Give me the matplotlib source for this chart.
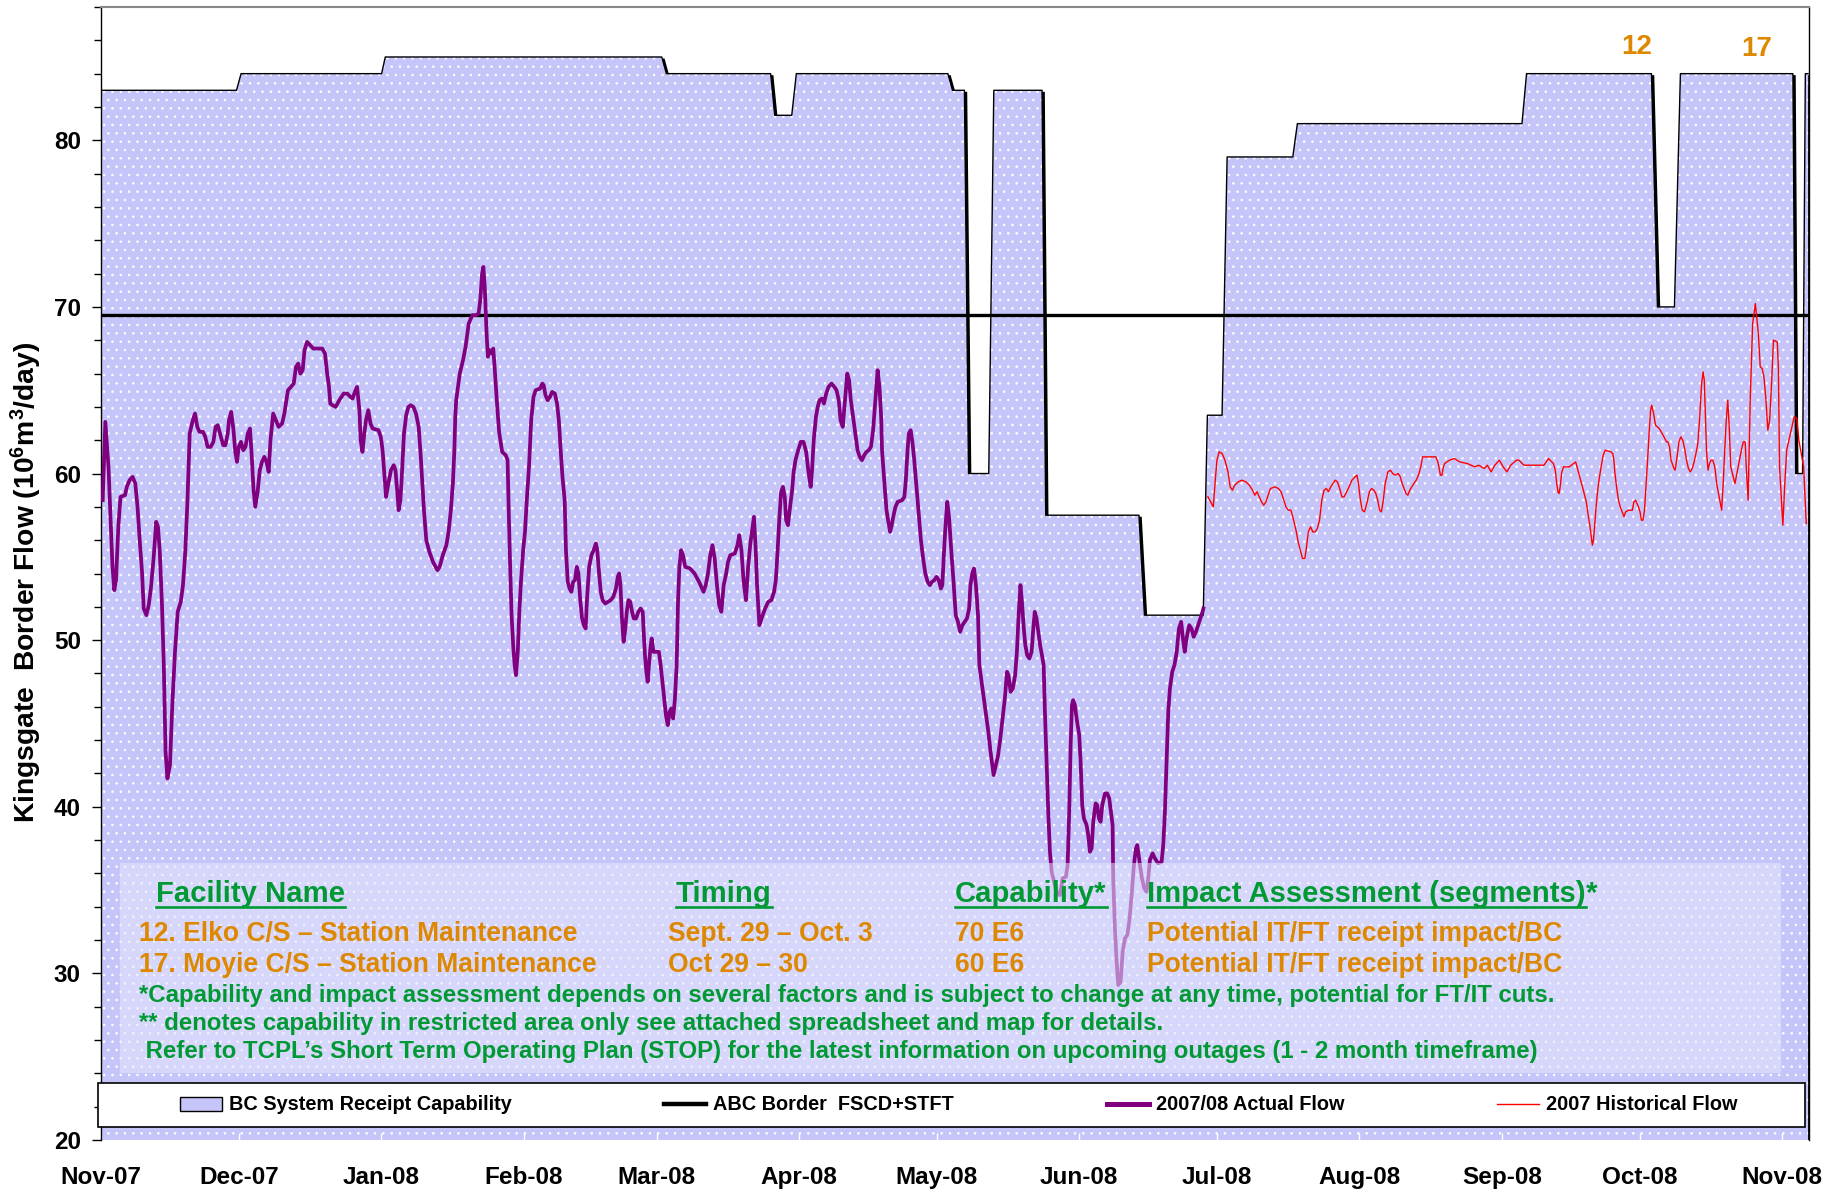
import matplotlib
matplotlib.use("Agg")
import matplotlib.pyplot as plt
from matplotlib import font_manager as fm
from matplotlib.patches import Rectangle, Patch
from matplotlib.lines import Line2D
from matplotlib.ticker import MultipleLocator, FixedLocator
from matplotlib.transforms import offset_copy

# ---------------- data ----------------
MONTH_DAY = [0, 30, 61, 92, 121, 152, 182, 213, 243, 274, 305, 335, 366]
MONTH_LABELS = ["Nov-07", "Dec-07", "Jan-08", "Feb-08", "Mar-08", "Apr-08", "May-08",
                "Jun-08", "Jul-08", "Aug-08", "Sep-08", "Oct-08", "Nov-08"]

# BC System Receipt Capability (days from Nov 1 2007)
CAP_DAY = [0, 29.5, 30.5, 61.1, 61.9, 122.1, 123.1, 145.8, 146.7, 150.4, 151.4, 184.4, 185.4,
           188.0, 188.9, 193.3, 194.4, 204.9, 205.7, 226.0, 227.2, 240.0, 240.9, 244.1, 245.2,
           259.5, 260.5, 309.4, 310.4, 337.6, 338.9, 342.6, 343.9, 368.4, 369.0, 370.5, 371.1, 371.7]
CAP_VALUE = [83, 83, 84, 84, 85, 85, 84, 84, 81.5, 81.5, 84, 84, 83,
             83, 60, 60, 83, 83, 57.5, 57.5, 51.5, 51.5, 63.5, 63.5, 79,
             79, 81, 81, 84, 84, 70, 70, 84, 84, 60, 60, 84, 84]

# ABC Border FSCD+STFT
ABC_DAY = [0, 371.7]
ABC_FLOW = [69.5, 69.5]

# 2007/08 Actual Flow
ACT_DAY = [0.37, 0.94, 1.63, 2.11, 2.50, 2.90, 3.27, 3.77, 4.25, 5.23, 5.62, 6.21, 6.88, 7.47, 7.95,
           8.43, 8.93, 9.30, 9.88, 10.39, 10.86, 11.45, 12.02, 12.41, 12.80, 13.28, 13.67, 14.06,
           14.46, 15.02, 15.52, 16.11, 16.70, 17.37, 17.85, 18.35, 18.83, 19.31, 19.99, 20.47,
           20.97, 21.45, 22.21, 22.71, 23.21, 23.88, 24.47, 24.95, 25.43, 25.91, 26.61, 27.09,
           27.59, 27.87, 28.35, 28.85, 29.24, 29.61, 30.00, 30.48, 30.98, 31.46, 31.96, 32.44,
           32.83, 33.22, 33.59, 34.10, 34.57, 35.05, 35.55, 36.03, 36.51, 36.90, 37.49, 38.08,
           38.67, 39.43, 39.93, 40.71, 41.37, 41.96, 42.46, 42.94, 43.41, 43.91, 44.31, 44.87,
           45.57, 46.24, 48.18, 48.77, 49.25, 49.64, 49.92, 50.42, 51.10, 51.88, 52.84, 53.63,
           54.30, 54.78, 55.28, 55.76, 56.26, 56.54, 56.93, 57.33, 57.70, 58.20, 58.68, 59.16,
           60.42, 60.92, 61.31, 61.59, 62.07, 62.57, 63.14, 63.73, 64.12, 64.51, 64.80, 65.19,
           65.49, 65.97, 66.45, 66.93, 67.43, 68.02, 68.58, 69.17, 69.56, 69.95, 70.32, 70.83,
           71.50, 72.28, 72.87, 73.26, 73.74, 74.42, 75.20, 75.68, 76.18, 76.64, 76.94, 77.14,
           77.34, 78.12, 78.82, 79.38, 80.06, 80.84, 81.63, 82.21, 82.58, 82.98, 83.26, 83.56,
           83.96, 84.24, 84.63, 85.11, 85.41, 85.70, 86.18, 86.68, 87.35, 88.13, 88.53, 88.81,
           89.09, 89.40, 89.79, 90.07, 90.36, 90.75, 91.05, 91.44, 91.92, 92.32, 92.71, 93.19,
           93.67, 94.17, 94.64, 95.60, 96.10, 96.39, 96.78, 97.26, 97.76, 98.24, 98.82, 99.30,
           99.69, 100.09, 100.48, 100.96, 101.24, 101.63, 102.02, 102.42, 102.81, 103.20, 103.59,
           103.96, 104.35, 104.75, 105.14, 105.53, 105.81, 106.29, 106.79, 107.27, 107.75, 108.06,
           108.45, 108.82, 109.21, 109.80, 110.39, 110.97, 111.56, 112.13, 112.52, 112.82, 113.11,
           113.39, 113.78, 114.09, 114.48, 114.85, 115.24, 115.63, 116.02, 116.50, 117.00, 117.48,
           117.96, 118.16, 118.44, 118.75, 119.03, 119.31, 119.62, 119.90, 120.29, 121.47, 121.86,
           122.25, 122.62, 123.01, 123.41, 123.80, 124.19, 124.58, 124.97, 125.34, 125.65, 125.93,
           126.32, 126.72, 127.19, 128.28, 129.24, 130.22, 131.20, 131.68, 132.16, 132.66, 133.14,
           133.62, 134.12, 134.60, 135.08, 135.58, 136.06, 136.53, 137.03, 137.99, 138.58, 138.97,
           139.45, 139.93, 140.43, 140.91, 141.39, 141.89, 142.17, 142.56, 142.85, 143.35, 143.83,
           144.61, 145.28, 145.96, 146.55, 146.94, 147.33, 147.72, 148.09, 148.49, 148.88, 149.18,
           149.58, 149.95, 150.45, 150.82, 151.21, 151.80, 152.38, 152.97, 153.54, 154.04, 154.52,
           154.80, 155.19, 155.67, 156.06, 156.45, 156.96, 157.41, 157.91, 158.41, 159.09, 159.68,
           160.16, 160.64, 161.03, 161.51, 162.01, 162.49, 162.88, 163.27, 163.75, 164.23, 164.73,
           165.21, 165.69, 166.19, 166.67, 167.15, 167.65, 168.12, 168.60, 169.10, 169.50, 169.87,
           170.06, 170.56, 171.04, 171.43, 171.82, 172.11, 172.50, 172.98, 173.48, 174.44, 174.92,
           175.22, 175.62, 175.90, 176.29, 176.68, 177.08, 177.56, 178.04, 178.53, 179.01, 179.49,
           179.99, 180.47, 180.95, 181.45, 181.93, 182.41, 182.89, 183.19, 183.48, 183.87, 184.26,
           184.65, 185.13, 185.63, 186.11, 186.59, 187.07, 187.57, 188.05, 188.55, 189.03, 189.31,
           189.70, 190.09, 190.51, 190.96, 191.25, 191.75, 192.23, 192.71, 193.21, 193.69, 194.08,
           194.36, 194.86, 195.34, 195.82, 196.32, 196.80, 197.28, 197.59, 198.06, 198.54, 199.04,
           199.43, 199.80, 200.20, 200.50, 200.87, 201.26, 201.66, 202.14, 202.63, 203.00, 203.31,
           203.70, 204.09, 204.48, 204.88, 205.25, 205.53, 205.90, 206.25, 206.62, 206.99, 208.08,
           208.80, 209.38, 210.10, 210.47, 210.82, 211.13, 211.41, 211.69, 212.06, 212.43, 213.00,
           213.30, 213.65, 214.02, 214.61, 214.96, 215.33, 215.70, 216.05, 216.57, 216.92, 217.29,
           217.66, 218.01, 218.60, 219.10, 219.53, 219.90, 220.27, 220.40, 220.77, 221.14, 221.49,
           222.01, 222.45, 222.95, 223.45, 223.89, 224.41, 224.91, 225.35, 225.63, 225.94, 226.22,
           226.66, 227.15, 227.67, 228.02, 228.39, 228.98, 229.48, 230.20, 230.94, 231.29, 231.66,
           232.03, 232.38, 232.75, 233.25, 233.73, 234.23, 234.71, 235.19, 235.58, 235.97, 236.36,
           236.93, 237.43, 237.91, 238.41, 238.89, 239.37, 239.85, 240.04]
ACT_FLOW = [58.4, 63.1, 60.4, 57.1, 54.4, 53.0, 53.6, 56.8, 58.6, 58.7, 59.2, 59.6, 59.8, 59.4, 58.0,
            56.0, 54.1, 51.9, 51.5, 52.1, 53.1, 54.9, 57.1, 56.8, 55.3, 52.1, 48.5, 43.3,
            41.7, 42.5, 46.1, 49.3, 51.7, 52.3, 53.3, 55.3, 58.4, 62.4, 63.2, 63.6,
            62.8, 62.5, 62.5, 62.2, 61.6, 61.6, 61.9, 62.8, 62.9, 62.4, 61.7, 61.7,
            62.4, 63.2, 63.7, 62.6, 61.3, 60.7, 61.6, 61.9, 61.4, 61.6, 62.4, 62.7,
            61.0, 59.0, 58.0, 58.9, 60.2, 60.7, 61.0, 60.7, 60.1, 62.0, 63.6, 63.2,
            62.8, 63.0, 63.6, 65.0, 65.2, 65.4, 66.4, 66.6, 66.0, 66.2, 67.4, 67.9,
            67.7, 67.5, 67.5, 67.2, 66.0, 65.2, 64.2, 64.1, 64.0, 64.4, 64.8, 64.8,
            64.6, 64.5, 64.9, 65.2, 63.8, 62.0, 61.3, 62.4, 63.2, 63.8, 63.0, 62.7,
            62.6, 62.2, 61.4, 60.4, 58.6, 59.4, 60.2, 60.5, 60.2, 58.9, 57.8, 58.4,
            59.8, 62.4, 63.5, 64.0, 64.1, 64.0, 63.6, 62.8, 61.3, 59.5, 57.8, 56.0,
            55.3, 54.7, 54.4, 54.2, 54.4, 55.1, 55.7, 56.5, 57.8, 59.5, 61.4, 63.4,
            64.4, 66.0, 66.8, 67.6, 69.0, 69.5, 69.5, 69.6, 70.4, 72.0, 72.4, 71.2,
            68.4, 67.0, 67.4, 67.2, 67.5, 66.4, 64.4, 62.5, 61.3, 61.1, 60.8, 57.4,
            54.4, 51.5, 49.5, 48.5, 47.9, 49.3, 51.5, 53.5, 55.4, 56.5, 58.4, 60.4,
            63.2, 64.6, 65.0, 65.1, 65.4, 65.3, 64.7, 64.4, 64.6, 64.9, 64.8, 64.2,
            63.2, 61.4, 59.8, 58.4, 55.4, 53.5, 53.1, 52.9, 53.5, 53.6, 54.4,
            54.0, 52.4, 51.3, 50.9, 50.7, 52.4, 54.4, 55.1, 55.4, 55.8, 55.4,
            54.0, 52.9, 52.4, 52.2, 52.3, 52.4, 52.6, 53.1, 53.8, 54.0, 53.3,
            51.5, 49.9, 50.5, 51.7, 52.4, 52.3, 51.7, 51.3, 51.3, 51.7, 51.9,
            51.7, 50.5, 49.1, 48.1, 47.5, 48.5, 49.5, 50.1, 49.3, 49.3, 48.5,
            47.5, 46.5, 45.5, 44.9, 45.7, 45.9, 45.3, 46.5, 48.5, 52.4, 54.4,
            55.4, 55.1, 54.4, 54.3, 54.0, 53.5, 52.9, 53.3, 54.0, 55.1, 55.7,
            54.9, 53.3, 52.1, 51.7, 53.3, 53.9, 54.7, 55.1, 55.2, 55.7, 56.3,
            55.4, 53.5, 52.4, 54.4, 55.8, 56.8, 57.4, 55.4, 53.3, 50.9, 51.3,
            51.9, 52.3, 52.4, 52.9, 53.6, 55.4, 57.4, 58.9, 59.2, 58.6, 57.2,
            56.9, 57.8, 58.9, 60.1, 60.8, 61.4, 61.9, 61.9, 61.3, 60.1, 59.2,
            60.1, 62.0, 63.4, 64.0, 64.4, 64.5, 64.2, 64.8, 65.2, 65.4, 65.2,
            65.0, 64.4, 63.2, 62.8, 64.4, 66.0, 65.6, 64.4, 63.4, 62.4, 61.4,
            61.0, 60.8, 61.1, 61.3, 61.4, 61.6, 62.6, 64.4, 66.2, 65.2, 63.4,
            61.4, 59.5, 57.8, 57.1, 56.5, 56.8, 57.4, 58.0, 58.3, 58.4, 58.6,
            59.5, 61.4, 62.4, 62.6, 61.9, 60.8, 59.2, 57.6, 56.0, 54.9, 54.0,
            53.5, 53.3, 53.5, 53.6, 53.8, 53.6, 53.1, 53.3, 54.9, 56.8, 58.3,
            57.4, 55.4, 53.5, 51.5, 51.1, 50.5, 50.9, 51.1, 51.3, 51.9, 53.3,
            54.0, 54.3, 53.3, 51.5, 48.5, 47.5, 46.5, 45.5, 44.5, 43.3, 42.5,
            41.9, 42.5, 43.1, 44.1, 45.3, 46.5, 48.1, 47.9, 46.9, 47.1, 47.9,
            49.3, 51.5, 53.3, 52.4, 50.9, 49.7, 49.1, 48.9, 49.3, 50.7, 51.7,
            51.3, 50.5, 49.7, 49.1, 48.5, 45.7, 42.7, 39.7, 37.3, 36.1, 34.9,
            34.7, 35.7, 35.8, 36.5, 39.7, 43.7, 46.1, 46.4, 46.1, 45.3, 44.3,
            42.7, 40.1, 39.3, 38.9, 38.3, 37.3, 37.5, 39.1, 40.2, 40.1, 39.3,
            39.1, 40.1, 40.8, 40.8, 40.5, 39.7, 38.9, 35.7, 32.7, 30.7, 29.3,
            29.5, 31.3, 32.1, 32.3, 33.1, 34.7, 36.5, 37.5, 37.7, 37.1, 36.5,
            35.7, 35.1, 34.9, 35.7, 36.8, 37.2, 36.9, 36.6, 36.7, 37.7, 39.7,
            42.7, 45.7, 47.1, 48.1, 48.5, 49.3, 50.7, 51.1, 50.1, 49.3, 50.1,
            50.9, 50.7, 50.2, 50.5, 50.9, 51.3, 51.7, 51.9]

# 2007 Historical Flow
HIST_DAY = [241.02, 241.61, 242.19, 242.59, 242.98, 243.46, 244.13, 244.72, 245.39, 245.87, 246.37,
            246.85, 247.62, 248.40, 249.29, 250.05, 250.73, 251.23, 251.71, 252.19, 252.69, 253.17,
            253.65, 254.15, 254.63, 255.61, 256.37, 256.96, 257.54, 258.02, 258.52, 259.09, 259.68,
            260.27, 260.66, 261.14, 261.62, 262.12, 262.40, 262.88, 263.38, 263.86, 264.36, 264.84,
            265.32, 265.82, 266.30, 266.80, 267.28, 267.76, 268.24, 268.74, 269.22, 269.70, 270.20,
            270.68, 271.58, 272.38, 273.04, 273.47, 273.80, 274.22, 274.63, 275.11, 275.70, 276.18,
            276.66, 277.16, 277.58, 277.99, 278.40, 278.79, 279.21, 279.62, 280.21, 280.77, 281.27,
            281.84, 282.43, 282.91, 283.32, 283.74, 284.15, 284.56, 284.98, 285.39, 285.89, 286.37,
            286.87, 287.37, 287.76, 289.24, 290.66, 291.07, 291.31, 291.64, 291.97, 292.29, 292.55,
            293.62, 294.69, 295.84, 297.50, 299.13, 299.96, 301.20, 301.86, 302.68, 303.48, 304.49,
            305.31, 306.12, 306.94, 308.19, 308.75, 309.82, 314.19, 315.17, 316.24, 316.65, 316.98,
            317.24, 317.48, 317.72, 318.07, 318.46, 319.70, 321.10, 321.77, 322.58, 323.41, 323.82,
            324.23, 324.73, 324.97, 325.21, 325.54, 325.89, 326.28, 326.69, 327.10, 327.52, 328.76,
            329.17, 329.41, 329.65, 330.00, 330.41, 330.80, 331.22, 331.63, 331.96, 332.63, 333.44,
            333.77, 334.11, 334.77, 335.10, 335.42, 335.75, 336.08, 336.40, 336.75, 337.08, 337.41,
            337.65, 338.07, 338.48, 339.31, 340.13, 340.88, 341.18, 341.53, 341.86, 342.51, 342.75,
            343.17, 343.58, 343.99, 344.41, 344.82, 345.23, 345.65, 346.06, 346.47, 346.89, 347.28,
            347.69, 348.11, 348.52, 348.85, 349.10, 349.34, 349.58, 349.91, 350.24, 350.58, 350.97,
            351.39, 351.80, 352.48, 352.87, 353.22, 353.55, 353.88, 354.21, 354.53, 354.86, 355.78,
            356.76, 357.17, 357.59, 358.00, 358.24, 358.65, 359.10, 359.63, 360.22, 360.87, 361.28,
            361.70, 362.09, 362.53, 362.94, 363.33, 363.75, 364.16, 364.99, 365.23, 365.49, 366.21,
            366.63, 367.04, 367.85, 368.67, 369.25, 369.69, 370.73, 371.30]
HIST_FLOW = [58.6, 58.3, 58.0, 59.5, 60.8, 61.3, 61.2, 60.8, 60.1, 59.2, 59.0,
             59.3, 59.5, 59.6, 59.5, 59.3, 59.0, 58.7, 58.9, 58.6, 58.3, 58.1,
             58.3, 58.7, 59.1, 59.2, 59.1, 58.9, 58.4, 58.0, 57.8, 57.8, 57.2,
             56.5, 55.9, 55.4, 54.9, 54.9, 55.4, 56.5, 56.8, 56.5, 56.5, 56.7,
             57.2, 58.4, 59.0, 59.1, 58.9, 59.2, 59.4, 59.6, 59.5, 59.1, 58.6,
             58.6, 59.1, 59.6, 59.8, 59.9, 59.4, 58.4, 57.8, 57.7, 58.3, 58.9,
             59.1, 59.0, 58.8, 58.4, 57.8, 57.7, 58.4, 59.4, 60.1, 60.2, 60.0,
             59.9, 60.0, 59.8, 59.4, 59.1, 58.8, 58.7, 59.0, 59.2, 59.4, 59.6,
             59.9, 60.4, 61.0, 61.0, 61.0, 60.7, 60.4, 59.9, 59.9, 60.4, 60.6,
             60.8, 60.9, 60.7, 60.6, 60.4, 60.5, 60.3, 60.5, 60.1, 60.5, 60.8,
             60.4, 60.1, 60.5, 60.8, 60.8, 60.5, 60.5, 60.9, 60.6, 60.2, 59.4,
             58.9, 58.8, 59.2, 60.1, 60.4, 60.4, 60.7, 60.0, 59.2, 58.3, 57.5,
             56.8, 55.7, 56.0, 56.8, 58.0, 59.0, 59.8, 60.5, 61.1, 61.4, 61.3,
             61.2, 60.8, 60.0, 59.2, 58.4, 58.0, 57.7, 57.4, 57.7, 57.8, 57.8,
             58.3, 58.4, 58.0, 57.7, 57.2, 57.2, 57.8, 59.2, 60.8, 62.4, 63.8,
             64.1, 63.6, 62.9, 62.7, 62.3, 61.9, 61.9, 61.6, 60.8, 60.3, 60.2,
             61.0, 61.9, 62.2, 62.0, 61.5, 60.8, 60.3, 60.1, 60.3, 60.7, 61.2,
             61.8, 63.4, 65.4, 66.1, 65.6, 63.4, 61.4, 60.2, 60.6, 60.8, 60.8,
             60.4, 59.4, 58.4, 57.8, 59.4, 61.4, 63.2, 64.4, 62.8, 60.4, 59.4,
             60.8, 61.4, 61.9, 61.9, 60.4, 58.4, 64.4, 69.0, 70.2, 68.4, 66.4,
             66.3, 65.8, 64.4, 62.6, 63.2, 65.4, 68.0, 67.9, 66.4, 60.4, 56.9,
             59.4, 61.4, 62.4, 63.4, 63.3, 62.0, 60.4, 57.0]

FACILITY = ["12. Elko C/S \u2013 Station Maintenance", "17. Moyie C/S \u2013 Station Maintenance"]
TIMING = ["Sept. 29 \u2013 Oct. 3", "Oct 29 \u2013 30"]
CAPABILITY = ["70 E6", "60 E6"]
IMPACT = ["Potential IT/FT receipt impact/BC", "Potential IT/FT receipt impact/BC"]
NOTES = ["*Capability and impact assessment depends on several factors and is subject to change at any time, potential for FT/IT cuts.",
         "** denotes capability in restricted area only see attached spreadsheet and map for details.",
         " Refer to TCPL\u2019s Short Term Operating Plan (STOP) for the latest information on upcoming outages (1 - 2 month timeframe)"]

# ---------------- style ----------------
def pick(names):
    for n in names:
        try:
            fm.findfont(fm.FontProperties(family=n), fallback_to_default=False)
            return n
        except Exception:
            pass
    return "DejaVu Sans"

FONT = pick(["Liberation Sans", "Arial", "Noto Sans"])
plt.rcParams["font.family"] = [FONT, "DejaVu Sans"]
plt.rcParams["font.weight"] = "bold"
plt.rcParams["mathtext.default"] = "regular"
plt.rcParams["hatch.color"] = "white"
plt.rcParams["hatch.linewidth"] = 0.6

LAV = "#C5C5FA"
PURPLE = "#800080"
GREEN = "#009933"
ORANGE = "#DD8800"

W, H = 1843, 1192
fig = plt.figure(figsize=(W / 100, H / 100), dpi=100)
ax = fig.add_axes([101 / W, (H - 1140) / H, 1708 / W, 1133 / H])
ax.set_xlim(0, 371.9)
ax.set_ylim(20, 88)

def fx(px):
    return px / W

def fy(py):
    return 1 - py / H

# capability area with drop shadow, dot pattern and outline
shadow_tr = offset_copy(ax.transData, fig=fig, x=2.8, y=-1.5, units="dots")
ax.fill_between(CAP_DAY, 0, CAP_VALUE, color="black", lw=0, transform=shadow_tr, zorder=1)
ax.fill_between(CAP_DAY, 0, CAP_VALUE, color=LAV, lw=0, zorder=1.1)
ax.fill_between(CAP_DAY, 0, CAP_VALUE, facecolor="none", edgecolor="white", hatch="..",
                lw=0, zorder=1.2)
ax.plot(CAP_DAY, CAP_VALUE, color="black", lw=1.0, zorder=1.3)

ax.plot(ABC_DAY, ABC_FLOW, color="black", lw=2.4, zorder=3)
ax.plot(ACT_DAY, ACT_FLOW, color=PURPLE, lw=2.7, zorder=4, solid_joinstyle="round")
ax.plot(HIST_DAY, HIST_FLOW, color="#FF0000", lw=1.0, zorder=4)

# axes styling
ax.set_xticks(MONTH_DAY)
ax.set_xticklabels(MONTH_LABELS)
ax.tick_params(axis="x", direction="in", length=5, width=1, color="white", pad=19,
               labelsize=17.5)
ax.yaxis.set_major_locator(FixedLocator([20, 30, 40, 50, 60, 70, 80]))
ax.yaxis.set_minor_locator(MultipleLocator(2))
ax.tick_params(axis="y", which="major", direction="out", length=6.5, width=1, pad=8,
               labelsize=17.5)
ax.tick_params(axis="y", which="minor", direction="out", length=5, width=1)
for lab in ax.get_xticklabels() + ax.get_yticklabels():
    lab.set_fontweight("bold")
ax.spines["top"].set_color("#888888")
ax.spines["top"].set_linewidth(1.5)
ax.spines["right"].set_color("black")
ax.spines["right"].set_linewidth(1.0)
ax.spines["left"].set_linewidth(1.0)
ax.spines["bottom"].set_visible(False)

# text box
ax.add_patch(Rectangle((fx(120), fy(1073)), fx(1781) - fx(120), fy(863) - fy(1073),
                       transform=fig.transFigure, facecolor="#E6E6FF", alpha=0.55,
                       edgecolor="none", zorder=5))

r = fig.canvas.get_renderer()

def fit(txt, target):
    w = txt.get_window_extent(r).width
    txt.set_fontsize(txt.get_fontsize() * target / w)
    return txt.get_fontsize()

def put(x, y, s, color, size=18, **kw):
    return ax.text(fx(x), fy(y), s, transform=fig.transFigure, color=color, fontsize=size,
                   fontweight="bold", ha="left", va="baseline", zorder=6, **kw)

# headers
h1 = put(156, 901.7, "Facility Name", GREEN)
hs = fit(h1, 188)
h2 = put(676, 901.7, "Timing", GREEN, hs)
h3 = put(955, 901.7, "Capability*", GREEN, hs)
h4 = put(1147, 901.7, "Impact Assessment (segments)", GREEN, hs)
b4 = h4.get_window_extent(r)
ax.text(b4.x1 / W, fy(901.7), "*", transform=fig.transFigure, color=GREEN, fontsize=hs,
        fontweight="bold", ha="left", va="baseline", zorder=6)
for h in (h1, h2, h3, h4):
    b = h.get_window_extent(r)
    ax.add_line(Line2D([b.x0 / W, b.x1 / W], [fy(906.5), fy(906.5)], color=GREEN, lw=1.9,
                       transform=fig.transFigure, zorder=6, clip_on=False))

# rows
o = put(139, 971.7, FACILITY[1], ORANGE)
osz = fit(o, 459)
put(139, 940.7, FACILITY[0], ORANGE, osz)
for i, yb in enumerate([940.7, 971.7]):
    put(668, yb, TIMING[i], ORANGE, osz)
    put(955, yb, CAPABILITY[i], ORANGE, osz)
    put(1147, yb, IMPACT[i], ORANGE, osz)

g = put(139, 1001.7, NOTES[0], GREEN)
gsz = fit(g, 1415)
put(139, 1030, NOTES[1], GREEN, gsz)
put(139, 1058, NOTES[2], GREEN, gsz)

# outage labels
ax.text(334.4, 85.6, "12", color=ORANGE, fontsize=20, fontweight="bold", ha="center",
        va="center", zorder=6)
ax.text(360.6, 85.5, "17", color=ORANGE, fontsize=20, fontweight="bold", ha="center",
        va="center", zorder=6)

# y label
yl = fig.text(fx(26), fy(582), "Kingsgate  Border Flow (10$^{6}$m$^{3}$/day)", rotation=90,
              ha="center", va="center", fontsize=18, fontweight="bold", color="black")
hgt = yl.get_window_extent(r).height
yl.set_fontsize(18 * 482 / hgt)

# legend frame + legend
ax.add_patch(Rectangle((fx(98), fy(1127)), fx(1805) - fx(98), fy(1083) - fy(1127),
                       transform=fig.transFigure, facecolor="white", edgecolor="black",
                       lw=1.2, zorder=7, clip_on=False))
handles = [Patch(facecolor=LAV, edgecolor="black", lw=1.0),
           Line2D([], [], color="black", lw=3.2),
           Line2D([], [], color=PURPLE, lw=3.6),
           Line2D([], [], color="#FF0000", lw=1.0)]
labels = ["BC System Receipt Capability", "ABC Border  FSCD+STFT", "2007/08 Actual Flow",
          "2007 Historical Flow"]
leg = ax.legend(handles, labels, ncol=4, loc="center left",
                bbox_to_anchor=(fx(170), fy(1105)), bbox_transform=fig.transFigure,
                frameon=False, borderpad=0, handlelength=2.1, handletextpad=0.35,
                columnspacing=7.71, prop={"weight": "bold", "size": 14.3})
leg.set_zorder(8)

fig.savefig("out.png", dpi=100)
